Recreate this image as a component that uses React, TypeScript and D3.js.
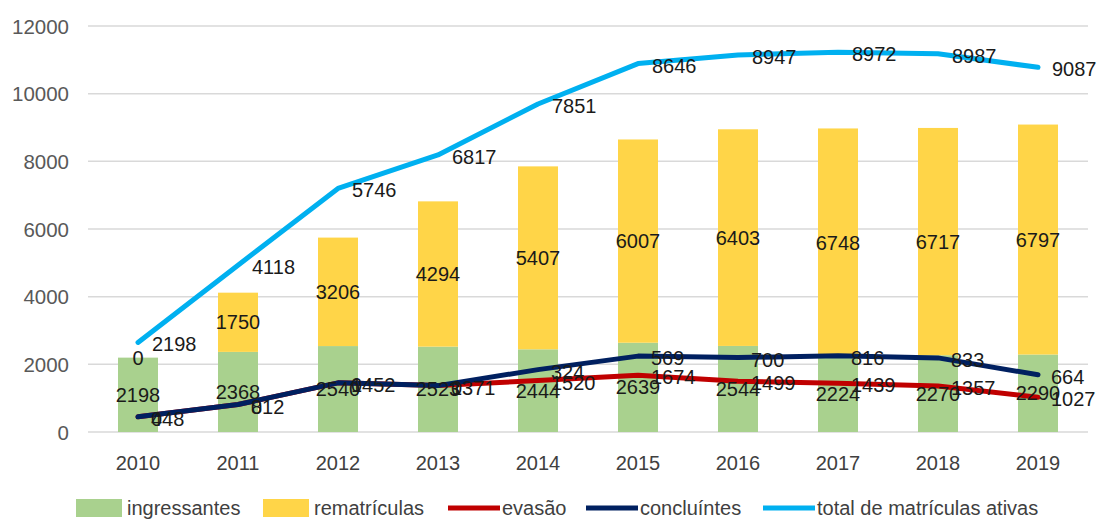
import React from "react";
import * as d3 from "d3";

const years = ["2010", "2011", "2012", "2013", "2014", "2015", "2016", "2017", "2018", "2019"];
const ingressantes = [2198, 2368, 2540, 2523, 2444, 2639, 2544, 2224, 2270, 2290];
const rematriculas = [0, 1750, 3206, 4294, 5407, 6007, 6403, 6748, 6717, 6797];
const evasao = [448, 812, 1452, 1371, 1520, 1674, 1499, 1439, 1357, 1027];
const concluintes = [0, 0, 0, 0, 324, 569, 700, 816, 833, 664];
const totalAtivas = [2198, 4118, 5746, 6817, 7851, 8646, 8947, 8972, 8987, 9087];
const yTicks = [0, 2000, 4000, 6000, 8000, 10000, 12000];

const W = 1099;
const H = 519;
const FONT = "'Liberation Sans', Arial, sans-serif";

const C_GREEN = "#A9D18E";
const C_YELLOW = "#FFD548";
const C_RED = "#C00000";
const C_NAVY = "#002060";
const C_BLUE = "#00B0F0";

export default function App() {
  const x = d3.scaleBand<string>().domain(years).range([88, 1088]).paddingInner(0.6).paddingOuter(0.3);
  const xc = (i: number) => (x(years[i]) as number) + x.bandwidth() / 2;
  const y = d3.scaleLinear().domain([0, 12000]).range([432, 26]);

  // stacked line series (as plotted in the original)
  const sEvasao = evasao.map((v) => v);
  const sConcl = evasao.map((v, i) => v + concluintes[i]);
  const sTotal = sConcl.map((v, i) => v + totalAtivas[i]);

  const line = d3
    .line<number>()
    .x((_, i) => xc(i))
    .y((v) => y(v))
    .curve(d3.curveLinear);

  const labelStyle = { fontFamily: FONT, fontSize: 20, fill: "#1a1a1a" } as React.CSSProperties;

  const legend = [
    { kind: "rect", color: C_GREEN, label: "ingressantes", x: 76 },
    { kind: "rect", color: C_YELLOW, label: "rematrículas", x: 263 },
    { kind: "line", color: C_RED, label: "evasão", x: 448 },
    { kind: "line", color: C_NAVY, label: "concluíntes", x: 586 },
    { kind: "line", color: C_BLUE, label: "total de matrículas ativas", x: 763 },
  ];

  return (
    <svg width={W} height={H} style={{ position: "absolute", left: 0, top: 0, background: "#fff" }}>
      {/* gridlines */}
      {yTicks.map((t) => (
        <line key={"g" + t} x1={88} x2={1088} y1={y(t)} y2={y(t)} stroke="#d9d9d9" strokeWidth={1.5} />
      ))}
      {/* y tick labels */}
      {yTicks.map((t) => (
        <text
          key={"t" + t}
          x={69}
          y={y(t)}
          textAnchor="end"
          dominantBaseline="central"
          style={{ fontFamily: FONT, fontSize: 20.5, fill: "#595959" }}
        >
          {t}
        </text>
      ))}
      {/* x labels */}
      {years.map((yr, i) => (
        <text
          key={"x" + yr}
          x={xc(i)}
          y={463}
          textAnchor="middle"
          dominantBaseline="central"
          style={{ fontFamily: FONT, fontSize: 20, fill: "#404040" }}
        >
          {yr}
        </text>
      ))}
      {/* stacked bars */}
      {years.map((yr, i) => (
        <g key={"b" + yr}>
          <rect
            x={x(yr)}
            width={x.bandwidth()}
            y={y(ingressantes[i])}
            height={y(0) - y(ingressantes[i])}
            fill={C_GREEN}
          />
          <rect
            x={x(yr)}
            width={x.bandwidth()}
            y={y(ingressantes[i] + rematriculas[i])}
            height={y(ingressantes[i]) - y(ingressantes[i] + rematriculas[i])}
            fill={C_YELLOW}
          />
        </g>
      ))}
      {/* lines */}
      <path d={line(sEvasao) || ""} fill="none" stroke={C_RED} strokeWidth={5} strokeLinejoin="round" strokeLinecap="round" />
      <path d={line(sConcl) || ""} fill="none" stroke={C_NAVY} strokeWidth={5} strokeLinejoin="round" strokeLinecap="round" />
      <path d={line(sTotal) || ""} fill="none" stroke={C_BLUE} strokeWidth={5} strokeLinejoin="round" strokeLinecap="round" />
      {/* bar labels */}
      {years.map((yr, i) => (
        <text
          key={"li" + yr}
          x={xc(i)}
          y={(y(0) + y(ingressantes[i])) / 2}
          textAnchor="middle"
          dominantBaseline="central"
          style={labelStyle}
        >
          {ingressantes[i]}
        </text>
      ))}
      {years.map((yr, i) => (
        <text
          key={"lr" + yr}
          x={xc(i)}
          y={(y(ingressantes[i]) + y(ingressantes[i] + rematriculas[i])) / 2}
          textAnchor="middle"
          dominantBaseline="central"
          style={labelStyle}
        >
          {rematriculas[i]}
        </text>
      ))}
      {/* line labels (right of point) */}
      {years.map((yr, i) => (
        <text key={"le" + yr} x={xc(i) + 13} y={y(sEvasao[i]) + 2} dominantBaseline="central" style={labelStyle}>
          {evasao[i]}
        </text>
      ))}
      {years.map((yr, i) => (
        <text key={"lc" + yr} x={xc(i) + 13} y={y(sConcl[i]) + 2} dominantBaseline="central" style={labelStyle}>
          {concluintes[i]}
        </text>
      ))}
      {years.map((yr, i) => (
        <text key={"lt" + yr} x={xc(i) + 14} y={y(sTotal[i]) + 2} dominantBaseline="central" style={labelStyle}>
          {totalAtivas[i]}
        </text>
      ))}
      {/* legend */}
      {legend.map((l) => (
        <g key={l.label}>
          {l.kind === "rect" ? (
            <rect x={l.x} y={499} width={46} height={18} fill={l.color} />
          ) : (
            <line x1={l.x} x2={l.x + 52} y1={508} y2={508} stroke={l.color} strokeWidth={5} />
          )}
          <text
            x={l.kind === "rect" ? l.x + 51 : l.x + 54}
            y={508}
            dominantBaseline="central"
            style={{ fontFamily: FONT, fontSize: 20, fill: "#404040" }}
          >
            {l.label}
          </text>
        </g>
      ))}
    </svg>
  );
}
